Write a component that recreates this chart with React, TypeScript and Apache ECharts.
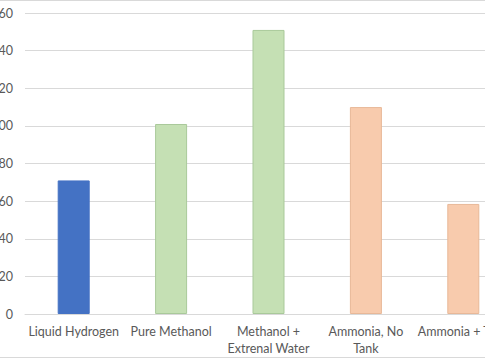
import React, { useEffect, useRef } from "react";
import * as echarts from "echarts";

const categories = [
  "Liquid Hydrogen",
  "Pure Methanol",
  "Methanol +\nExtrenal Water",
  "Ammonia, No\nTank",
  "Ammonia + Tank",
];
const values = [71, 101, 151, 110, 58.5];
const fills = ["#4472C4", "#C5E0B4", "#C5E0B4", "#F8CBAD", "#F8CBAD"];
const borders = ["#4472C4", "#A9C99A", "#A9C99A", "#E8B898", "#E8B898"];

export default function App() {
  const ref = useRef<HTMLDivElement>(null);
  useEffect(() => {
    if (!ref.current) return;
    const chart = echarts.init(ref.current, undefined, { renderer: "svg" });
    chart.setOption({
      animation: false,
      textStyle: { fontFamily: "Lato, 'Open Sans', sans-serif" },
      grid: {
        left: 25,
        top: 13,
        width: 487,
        height: 301,
        containLabel: false,
        outerBoundsMode: "none",
      },
      xAxis: {
        type: "category",
        data: categories,
        axisTick: { show: false },
        axisLine: { lineStyle: { color: "#d9d9d9" } },
        axisLabel: {
          color: "#595959",
          fontSize: 12.5,
          interval: 0,
          margin: 9,
          lineHeight: 17,
          hideOverlap: false,
        },
      },
      yAxis: {
        type: "value",
        min: 0,
        max: 160,
        interval: 20,
        axisLine: { show: false },
        axisTick: { show: false },
        splitLine: { lineStyle: { color: "#d9d9d9" } },
        axisLabel: { color: "#595959", fontSize: 12.5, margin: 12 },
      },
      series: [
        {
          type: "bar",
          barWidth: 32,
          data: values.map((v, i) => ({
            value: v,
            itemStyle: { color: fills[i], borderColor: borders[i], borderWidth: 1 },
          })),
        },
      ],
      graphic: [
        {
          type: "line",
          shape: { x1: 0, y1: 0.5, x2: 485, y2: 0.5 },
          style: { stroke: "#d9d9d9", lineWidth: 1 },
        },
        {
          type: "line",
          shape: { x1: 0, y1: 357.5, x2: 485, y2: 357.5 },
          style: { stroke: "#d9d9d9", lineWidth: 1 },
        },
      ],
    });
    return () => chart.dispose();
  }, []);
  return (
    <div
      ref={ref}
      style={{ position: "fixed", left: 0, top: 0, width: 485, height: 360, background: "#fff" }}
    />
  );
}
